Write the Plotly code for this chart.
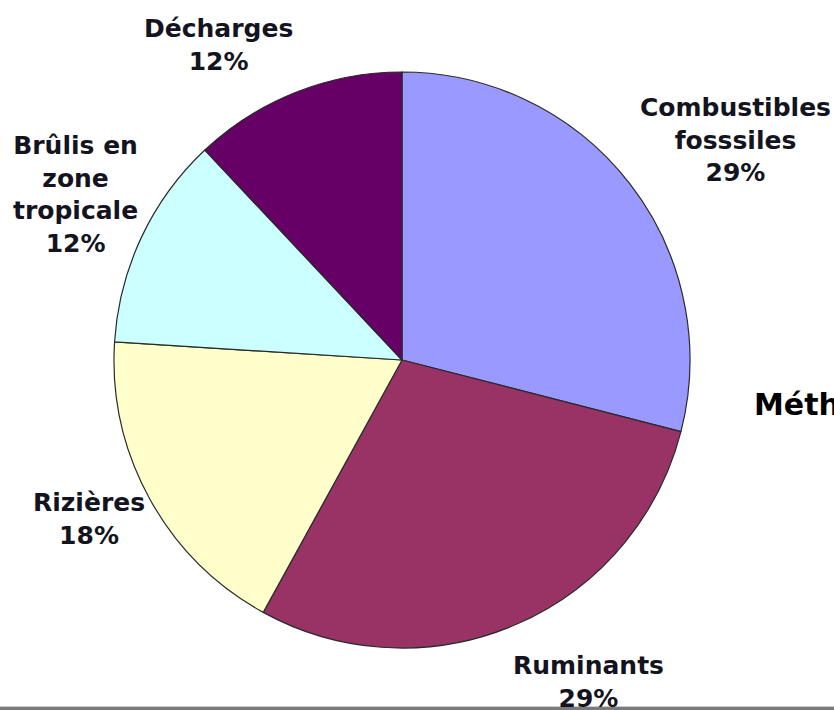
import plotly.graph_objects as go

# Sources of methane emissions (share of total, %), clockwise from 12 o'clock
sources = ["Combustibles<br>fosssiles", "Ruminants", "Rizières",
           "Brûlis en<br>zone<br>tropicale", "Décharges"]
shares = [29, 29, 18, 12, 12]
colors = ["#9999FF", "#993366", "#FFFFCC", "#CCFFFF", "#660066"]
title_text = "Méthane"

W, H = 834, 710
cx, cy, r = 402, 360, 288

fig = go.Figure(go.Pie(
    labels=[s.replace("<br>", " ") for s in sources],
    values=shares,
    sort=False,
    direction="clockwise",
    rotation=0,
    marker=dict(colors=colors, line=dict(color="#2a2a2a", width=1.2)),
    textinfo="none",
    hoverinfo="label+percent",
    showlegend=False,
    domain=dict(x=[(cx - r) / W, (cx + r) / W],
                y=[1 - (cy + r) / H, 1 - (cy - r) / H]),
))

# label block centres in pixels
label_pos = [(735, 140), (588, 682), (89, 519), (75, 194), (219, 45)]
for name, val, (px, py) in zip(sources, shares, label_pos):
    fig.add_annotation(
        x=px / W, y=1 - py / H, xref="paper", yref="paper",
        text=f"{name}<br>{val}%", showarrow=False,
        xanchor="center", yanchor="middle", align="center",
        font=dict(family="DejaVu Sans", size=25, color="#141420", weight="bold"),
    )

# chart title, running off the right edge
fig.add_annotation(
    x=752 / W, y=1 - 404 / H, xref="paper", yref="paper",
    text=title_text, showarrow=False, xanchor="left", yanchor="middle",
    font=dict(family="DejaVu Sans", size=30, color="#000000", weight="bold"),
)

# thin grey rule along the bottom edge
fig.add_shape(type="rect", xref="paper", yref="paper",
              x0=0, x1=1, y0=0, y1=3 / H,
              fillcolor="#7a7a7a", line=dict(width=0), layer="above")
fig.add_shape(type="rect", xref="paper", yref="paper",
              x0=0, x1=1, y0=3 / H, y1=4 / H,
              fillcolor="#cfcfcf", line=dict(width=0), layer="above")

fig.update_layout(
    width=W, height=H,
    margin=dict(l=0, r=0, t=0, b=0),
    paper_bgcolor="white", plot_bgcolor="white",
)

fig.write_html("out.html")
